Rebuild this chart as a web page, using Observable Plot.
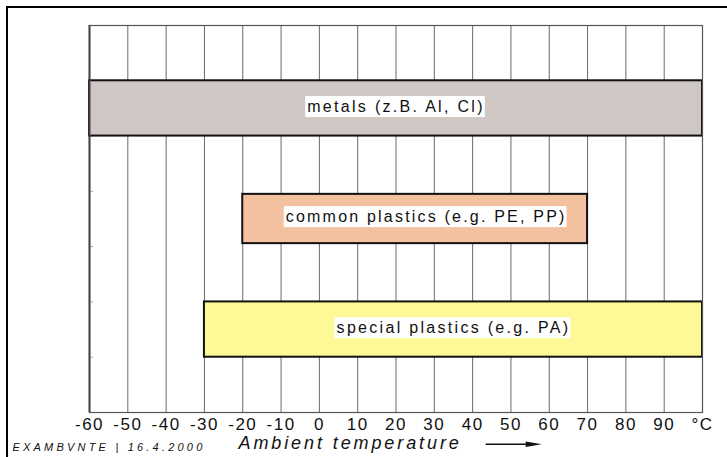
<!DOCTYPE html>
<html>
<head>
<meta charset="utf-8">
<script src="https://cdn.jsdelivr.net/npm/d3@7"></script>
<script src="https://cdn.jsdelivr.net/npm/@observablehq/plot@0.6"></script>
<style>
  html, body { margin: 0; padding: 0; background: #fff; }
  #wrap { position: relative; width: 727px; height: 457px; overflow: hidden; }
  #border { position: absolute; left: 6px; top: 6px; width: 900px; height: 700px;
            border-left: 2px solid #000; border-top: 2px solid #000; }
  #chart { position: absolute; left: 0; top: 0; }
  svg { overflow: visible; }
</style>
</head>
<body>
<div id="wrap"><div id="border"></div><div id="chart"></div></div>
<script>
// ---- data ----
const materials = ["metals (z.B. Al, Cl)", "common plastics (e.g. PE, PP)", "special plastics (e.g. PA)"];
const tempMin = [-60, -20, -30];
const tempMax = [100, 70, 100];
const rowIndex = [1, 3, 5];          // row slot of each material (7 slots)
const rowCount = 7;
const colors = ["#cec7c4", "#f3c0a0", "#fdf997"];
const tickValues = [-60, -50, -40, -30, -20, -10, 0, 10, 20, 30, 40, 50, 60, 70, 80, 90, 100];
const tickLabels = ["-60", "-50", "-40", "-30", "-20", "-10", "0", "10", "20", "30", "40", "50", "60", "70", "80", "90", "°C"];
const axisTitle = "Ambient temperature";
const caption = "EXAMBVNTE | 16.4.2000";

const data = materials.map((m, i) => ({
  name: m, x1: tempMin[i], x2: tempMax[i], r: rowIndex[i], mid: (tempMin[i] + tempMax[i]) / 2
}));
const inner = data.filter(d => d.x1 > -60 && d.x2 < 100);
const outer = data.filter(d => !(d.x1 > -60 && d.x2 < 100));

const font = "'Liberation Sans', Arial, Helvetica, sans-serif";

const chart = Plot.plot({
  width: 727,
  height: 457,
  marginLeft: 89,
  marginRight: 25,
  marginTop: 25,
  marginBottom: 45,
  style: { fontFamily: font, background: "transparent", overflow: "visible" },
  x: { domain: [tickValues[0], tickValues[tickValues.length - 1]], label: null },
  y: { domain: [0, rowCount], reverse: true, label: null },
  color: { domain: materials, range: colors },
  marks: [
    Plot.gridX({ ticks: tickValues.slice(1, -1), stroke: "#6a6a6a", strokeOpacity: 1, strokeWidth: 1 }),
    Plot.axisY({ ticks: d3.range(1, rowCount), tickSize: -4, tickFormat: () => "", label: null, stroke: "#aaa", strokeOpacity: 1 }),
    Plot.rect(outer, { x1: "x1", x2: "x2", y1: "r", y2: d => d.r + 1, fill: "name", stroke: "#111", strokeWidth: 2 }),
    Plot.rect(inner, { x1: "x1", x2: "x2", y1: "r", y2: d => d.r + 1, fill: "name", stroke: "#111", strokeWidth: 2, insetTop: 3, insetBottom: 3 }),
    Plot.frame({ stroke: "#555", strokeWidth: 1.2 }),
    Plot.ruleX([tickValues[0]], { stroke: "#444", strokeWidth: 2 }),
    Plot.text(outer, { x: "mid", y: d => d.r + 0.5, text: "name", fontSize: 16, dy: -1.5, fill: "#111",
      className: "barlabel" }),
    Plot.text(inner, { x: "mid", y: d => d.r + 0.5, text: "name", fontSize: 16, dy: -2, dx: 11, fill: "#111",
      className: "barlabel2" }),
    Plot.axisX({ ticks: tickValues, tickSize: 0, tickPadding: 5, tickFormat: (d, i) => tickLabels[tickValues.indexOf(d)],
      fontSize: 17, fill: "#111", label: null, className: "xticks" }),
    Plot.text([axisTitle], { frameAnchor: "bottom-left", dx: 149, dy: 31, text: d => d, textAnchor: "start",
      lineAnchor: "middle", fontSize: 18, fontStyle: "italic", fill: "#111", className: "axtitle" }),
    Plot.text([caption], { frameAnchor: "bottom-left", dx: -77, dy: 35, text: d => d, textAnchor: "start",
      lineAnchor: "middle", fontSize: 11, fontStyle: "italic", fill: "#111", className: "caption" })
  ]
});

document.getElementById("chart").appendChild(chart);

// letter spacing
chart.querySelectorAll(".barlabel text").forEach(t => t.setAttribute("letter-spacing", "2.3"));
chart.querySelectorAll(".barlabel2 text").forEach(t => t.setAttribute("letter-spacing", "2.2"));
chart.querySelectorAll(".xticks text").forEach(t => t.setAttribute("letter-spacing", "1.5"));
chart.querySelectorAll(".axtitle text").forEach(t => t.setAttribute("letter-spacing", "2.9"));
chart.querySelectorAll(".caption text").forEach(t => t.setAttribute("letter-spacing", "3.2"));

// white boxes behind the bar labels
chart.querySelectorAll(".barlabel text, .barlabel2 text").forEach(t => {
  const b = t.getBBox();
  const r = document.createElementNS("http://www.w3.org/2000/svg", "rect");
  r.setAttribute("x", b.x - 2);
  r.setAttribute("y", b.y - 2);
  r.setAttribute("width", b.width + 2);
  r.setAttribute("height", b.height + 4);
  r.setAttribute("fill", "#fff");
  const tr = t.getAttribute("transform");
  if (tr) r.setAttribute("transform", tr);
  t.parentNode.insertBefore(r, t);
});

// arrow after the axis title
const title = chart.querySelector(".axtitle text");
const tb = title.getBBox();
const ttr = title.getAttribute("transform");
const g = document.createElementNS("http://www.w3.org/2000/svg", "g");
if (ttr) g.setAttribute("transform", ttr);
const x0 = tb.x + tb.width + 24, yc = tb.y + tb.height / 2 + 1;
g.innerHTML = `<line x1="${x0}" y1="${yc}" x2="${x0 + 44}" y2="${yc}" stroke="#111" stroke-width="1.6"/>` +
  `<path d="M${x0 + 40},${yc - 2.8} L${x0 + 56},${yc} L${x0 + 40},${yc + 2.8} Z" fill="#111"/>`;
title.parentNode.appendChild(g);
</script>
</body>
</html>
